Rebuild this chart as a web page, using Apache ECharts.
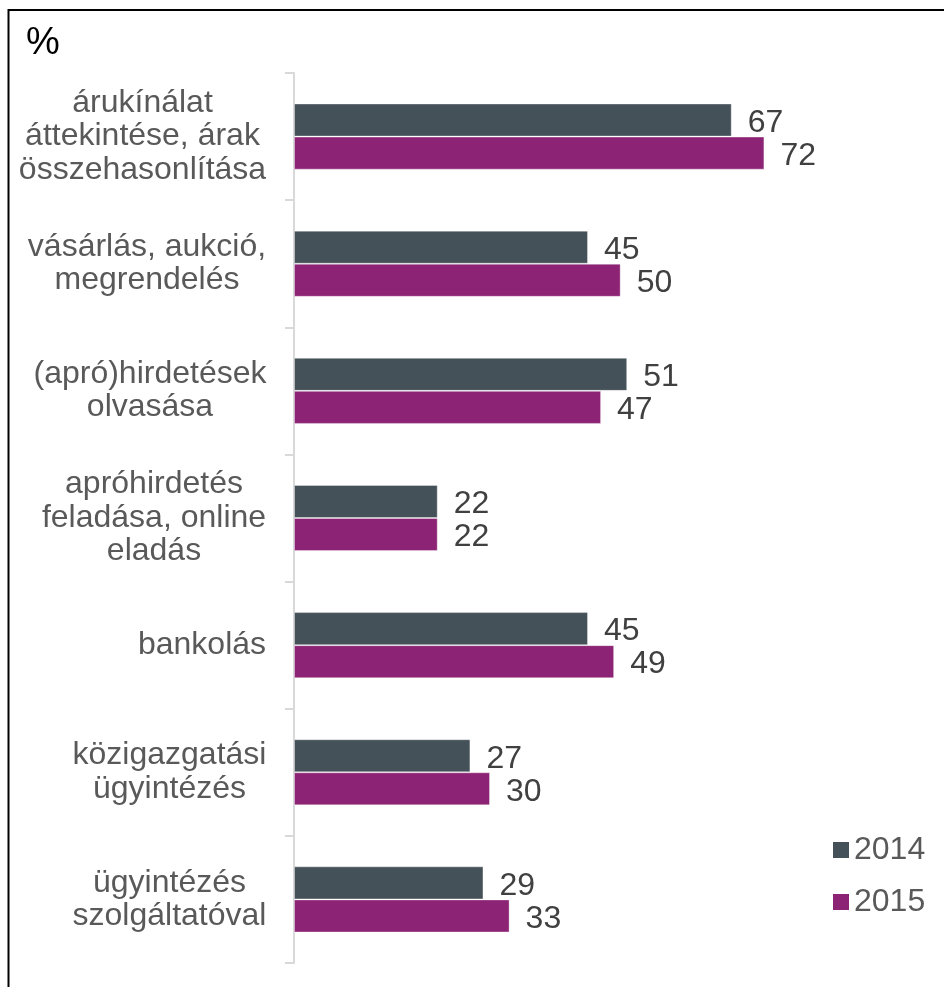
<!DOCTYPE html>
<html>
<head>
<meta charset="utf-8">
<script src="https://cdn.jsdelivr.net/npm/echarts@6/dist/echarts.min.js"></script>
<style>
  html, body { margin: 0; padding: 0; background: #fff; }
  #chart { width: 944px; height: 987px; }
</style>
</head>
<body>
<div id="chart"></div>
<script>
const categories = [
  'árukínálat\náttekintése, árak\nösszehasonlítása',
  'vásárlás, aukció,\nmegrendelés',
  '(apró)hirdetések\nolvasása',
  'apróhirdetés\nfeladása, online\neladás',
  'bankolás',
  'közigazgatási\nügyintézés',
  'ügyintézés\nszolgáltatóval'
];
const values2014 = [67, 45, 51, 22, 45, 27, 29];
const values2015 = [72, 50, 47, 22, 49, 30, 33];
const seriesNames = ['2014', '2015'];
const colors = ['#455159', '#8c2374'];

const FONT = '"Liberation Sans", Arial, sans-serif';
const FS = 32;

// each label block is right aligned, its lines centred inside the block
const ctx = document.createElement('canvas').getContext('2d');
ctx.font = FS + 'px ' + FONT;
const rich = {};
categories.forEach((c, i) => {
  const w = Math.max(...c.split('\n').map(l => ctx.measureText(l).width));
  rich['r' + i] = { width: Math.ceil(w) + 1, align: 'center', lineHeight: 33.5,
                    fontSize: FS, fontFamily: FONT, color: '#595959' };
});

const chart = echarts.init(document.getElementById('chart'));
chart.setOption({
  animation: false,
  legend: {
    orient: 'vertical', left: 828, top: 829,
    icon: 'rect', itemWidth: 16, itemHeight: 16, itemGap: 20,
    itemStyle: { borderWidth: 0 },
    textStyle: { fontSize: FS, color: '#595959', fontFamily: FONT },
    data: seriesNames
  },
  grid: { left: 294, top: 73, bottom: 24, right: 62, containLabel: false },
  xAxis: { type: 'value', min: 0, max: 90, show: false },
  yAxis: {
    type: 'category',
    inverse: true,
    data: categories,
    axisLine: { show: true, lineStyle: { color: '#d9d9d9', width: 2 } },
    axisTick: { show: true, length: 9, lineStyle: { color: '#d9d9d9', width: 2 } },
    axisLabel: {
      margin: 27,
      formatter: (value, index) => value.split('\n').map(l => '{r' + index + '|' + l + '}').join('\n'),
      rich: rich
    }
  },
  series: [values2014, values2015].map((d, i) => ({
    name: seriesNames[i],
    type: 'bar',
    data: d,
    barGap: '0%',
    barCategoryGap: '48%',
    itemStyle: { color: colors[i], borderColor: 'rgba(255,255,255,0.35)', borderWidth: 1 },
    label: {
      show: true, position: 'right', distance: 16, offset: [0, 3],
      fontSize: FS, color: '#404040', fontFamily: FONT
    }
  })),
  graphic: [
    { type: 'line', shape: { x1: 8, y1: 10, x2: 944, y2: 10 }, style: { stroke: '#000', lineWidth: 2 } },
    { type: 'line', shape: { x1: 8.5, y1: 9, x2: 8.5, y2: 987 }, style: { stroke: '#000', lineWidth: 2 } },
    { type: 'text', left: 26, top: 25, style: { text: '%', fontSize: 38, fontFamily: FONT, fill: '#000' } }
  ]
});
</script>
</body>
</html>
